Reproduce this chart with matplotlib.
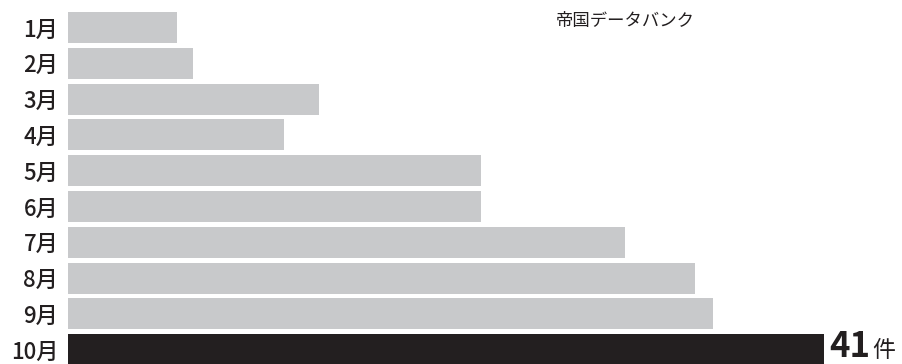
import matplotlib
matplotlib.use("Agg")
import matplotlib.pyplot as plt

plt.rcParams['font.family'] = ['Noto Sans CJK JP', 'DejaVu Sans']

months = ["1月", "2月", "3月", "4月", "5月", "6月", "7月", "8月", "9月", "10月"]
counts = [5.9, 6.8, 13.6, 11.7, 22.4, 22.4, 30.2, 34.0, 35.0, 41]
colors = ["#c8c9cb"] * 9 + ["#231f20"]

fig = plt.figure(figsize=(9.03, 3.64), dpi=100)
ax = fig.add_axes([68 / 903, 0, 1 - 68 / 903, 1])

y = list(range(len(months)))
ax.barh(y, counts, height=0.87, color=colors)

ax.set_xlim(0, (903 - 68) / 18.44)
ax.set_ylim((364 - 27.5) / 35.8, -27.5 / 35.8)

ax.set_yticks(y)
ax.set_yticklabels(months, fontsize=16, fontweight='medium', color='#231f20')
ax.tick_params(axis='y', length=0, pad=7)
ax.set_xticks([])
for s in ax.spines.values():
    s.set_visible(False)

# 最終月の件数
ax.annotate("41", xy=(counts[-1], y[-1]), xytext=(4, -5.4), textcoords='offset points',
            fontsize=25, fontweight='bold', va='baseline', ha='left', color='#231f20')
ax.annotate("件", xy=(counts[-1], y[-1]), xytext=(35, -5.4), textcoords='offset points',
            fontsize=16.5, va='baseline', ha='left', color='#231f20')

fig.text(556 / 903, 1 - 21 / 364, "帝国データバンク", fontsize=12.5, va='center', ha='left',
         color='#231f20')

fig.savefig("out.png", dpi=100)
